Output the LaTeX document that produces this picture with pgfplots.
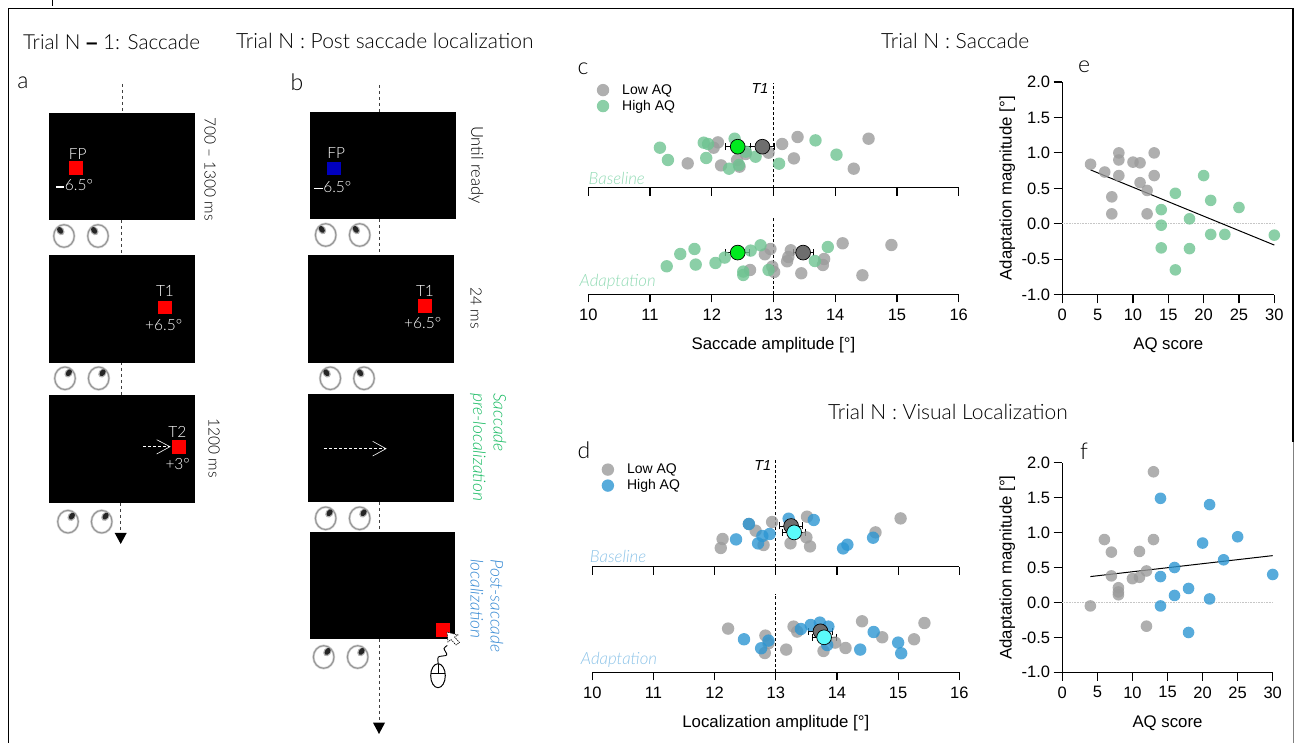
\documentclass[border=0pt]{standalone}
\usepackage{fontspec}
\usepackage{pgfplots}
\pgfplotsset{compat=1.18}
\setmainfont{Liberation Sans}
\newfontfamily\lt{Lato Light}
\definecolor{lowgray}{RGB}{155,155,155}
\definecolor{hgreen}{RGB}{110,195,145}
\definecolor{hblue}{RGB}{45,150,210}
\definecolor{meangray}{RGB}{110,110,110}
\definecolor{meangreen}{RGB}{0,235,30}
\definecolor{meancyan}{RGB}{90,250,250}
\definecolor{softgreen}{RGB}{145,218,180}
\definecolor{softblue}{RGB}{140,195,232}
\definecolor{labgreen}{RGB}{20,185,95}
\definecolor{labblue}{RGB}{50,135,210}
\pgfplotsset{
  strip/.style={scale only axis, clip=false, xmin=10, xmax=16, xtick={10,...,16},
    hide y axis, axis x line=bottom, axis line style={-,line width=1.3pt},
    xtick pos=bottom, tick align=outside, major tick length=8pt,
    tick style={black,line width=1.2pt},
    /pgf/number format/assume math mode=true,
    tick label style={font=\fontsize{16.5}{18}\selectfont},
    every axis x label/.append style={font=\fontsize{16.8}{18}\selectfont,
      at={(axis description cs:0.5,0)},anchor=center,yshift=-50.5pt},
    xticklabel style={yshift=-3pt}},
  scat/.style={scale only axis, clip=false, xmin=0, xmax=30, ymin=-1, ymax=2,
    xtick={0,5,...,30}, ytick={-1,-0.5,...,2}, axis lines=left,
    axis line style={-,line width=1.2pt}, tick align=outside, major tick length=8.7pt,
    tick style={black,line width=1.2pt},
    /pgf/number format/assume math mode=true,
    yticklabel style={/pgf/number format/fixed,/pgf/number format/fixed zerofill,/pgf/number format/precision=1},
    xticklabel style={yshift=-2pt},
    tick label style={font=\fontsize{16.5}{18}\selectfont},
    every axis x label/.append style={font=\fontsize{16.8}{18}\selectfont,
      at={(axis description cs:0.5,0)},anchor=center,yshift=-50.5pt},
    every axis y label/.append style={font=\fontsize{16.8}{18}\selectfont,
      at={(axis description cs:0,0.5)},anchor=center,yshift=55pt}},
  dot/.style={only marks, mark=*, mark size=6.2pt,
    mark options={fill=#1,draw=#1,draw opacity=0,fill opacity=0.8}},
  meandot/.style={forget plot, only marks, mark=*, mark size=7.4pt,
    mark options={draw=black,line width=0.7pt,fill=#1},
    error bars/.cd, x dir=both, x explicit,
    error bar style={black,line width=0.6pt},
    error mark options={rotate=90,mark size=3.5pt,black,line width=0.6pt}},
  tline/.style={forget plot, black, line width=0.8pt, dash pattern=on 3pt off 2.2pt},
  fit/.style={forget plot, black, line width=1pt, no marks},
  zeroline/.style={forget plot, no marks, gray!45, line width=0.6pt, densely dotted},
  leg/.style={legend style={at={(axis cs:#1)},anchor=west,draw=none,fill=none,
    font=\fontsize{14}{15}\selectfont,row sep=0.5pt,inner sep=0pt},legend cell align=left}
}
\newcommand{\eye}[3]{% centre x, y, pupil angle
  \draw[gray!35,line width=2.4pt] (#1,#2) ellipse [x radius=10.3,y radius=11.3];
  \draw[gray!85,line width=1pt] (#1,#2) ellipse [x radius=10.3,y radius=11.3];
  \fill[gray!60,rotate around={-#3:(#1,#2)}] ($(#1,#2)+(0,-6.3)$) ellipse [x radius=3.8,y radius=4.8];
  \fill[black!85,rotate around={-#3:(#1,#2)}] ($(#1,#2)+(0,-6.8)$) ellipse [x radius=2.6,y radius=3.8];}
\newcommand{\scr}[4]{\fill[black] (#1,#2) rectangle (#3,#4);}
\newcommand{\sq}[3]{\fill[#3] (#1,#2) rectangle ++(13.5,13.5);}
\usetikzlibrary{calc}
\begin{document}
\begin{tikzpicture}
\path[use as bounding box] (0,0) rectangle (1297pt,743pt);

\begin{scope}[shift={(0pt,743pt)},x=1pt,y=-1pt]
  \draw[line width=1.3pt] (8.5,743)--(8.5,8.5)--(1293,8.5)--(1293,442);
  \draw[gray,line width=0.8pt] (1293.5,442)--(1293.5,743);
  \draw[line width=0.9pt] (52,0)--(52,6);
  % guide lines
  \tikzset{guide/.style={black!75,line width=0.8pt,dash pattern=on 3.4pt off 2.6pt}}
  \draw[guide] (122.3,84)--(122.3,113);
  \draw[guide] (121.7,220)--(121.7,255);
  \draw[guide] (121.5,362)--(121.5,395);
  \draw[guide] (120.7,503)--(120.7,534);
  \fill[black] (114.7,533)--(126.7,533)--(120.7,544)--cycle;
  \draw[guide] (379,85)--(379,112);
  \draw[guide] (379,219)--(379,255);
  \draw[guide] (379,502)--(379,532);
  \draw[guide] (379,639)--(379,723);
  \fill[black] (373,722.7)--(385,722.7)--(379,734)--cycle;
  % screens
  \scr{49.3}{113}{195.3}{220.3}
  \scr{49.3}{255.3}{195.3}{362.7}
  \scr{49.3}{395.3}{195.3}{503}
  \scr{310.3}{111.7}{456.3}{219}
  \scr{308.3}{255.3}{454.3}{363}
  \scr{308.3}{394.3}{454.3}{502.3}
  \scr{309.5}{532.3}{455.3}{639.3}
  \sq{69.3}{161.3}{red}
  \sq{158.3}{300.7}{red}
  \sq{172.3}{440.3}{red}
  \sq{327}{161.7}{blue!75!black}
  \sq{418.3}{299.5}{red}
  \sq{436}{623.3}{red}
  % eyes
  \eye{64}{236}{-35}\eye{98}{236}{-35}
  \eye{65}{378.3}{35}\eye{98.7}{378.3}{35}
  \eye{68}{521.7}{35}\eye{101.7}{521.7}{35}
  \eye{325.7}{235}{-35}\eye{359.7}{235}{-35}
  \eye{330.3}{378.3}{-35}\eye{364}{378.3}{-35}
  \eye{325.7}{518.3}{35}\eye{359.7}{518.3}{35}
  \eye{323.7}{657}{35}\eye{357.7}{657}{35}
  % saccade arrows
  \draw[white,line width=0.6pt,dash pattern=on 3pt off 2pt] (143.3,446.7)--(170,446.7);
  \draw[white,line width=0.6pt] (156.7,439.7)--(170,446.7)--(156.7,454);
  \draw[white,line width=0.6pt,dash pattern=on 3pt off 2pt] (324,448.7)--(386,448.7);
  \draw[white,line width=0.6pt] (372.7,441.3)--(386,448.7)--(372.7,456);
  % mouse and cursor
  \draw[black,line width=1pt] (438,675.7) ellipse [x radius=7.3,y radius=12];
  \draw[black,line width=0.8pt] (430.7,673)--(445.3,673) (438,664)--(438,673);
  \draw[black,line width=0.9pt] plot[smooth] coordinates {(438.3,663.5)(438.3,657)(446.7,655)(444,648.5)(447.3,645.5)};
  \draw[black,fill=white,line width=0.6pt,dash pattern=on 1.5pt off 0.8pt] (447,632)--(448,642)--(451,639.5)--(456,645)--(459.5,642.5)--(454.5,637)--(458,635)--cycle;
  % text in the panels
  \tikzset{tw/.style={white,font=\lt\fontsize{15.5}{18}\selectfont,inner sep=0pt},
           rt/.style={rotate=-90,font=\lt\fontsize{15.5}{17}\selectfont,inner sep=0pt},
           rl/.style={rotate=-90,anchor=west,font=\lt\itshape\fontsize{17.4}{19}\selectfont,inner sep=0pt},
           hd/.style={font=\lt\fontsize{21}{23}\selectfont,inner sep=0pt,anchor=west},
           let/.style={font=\lt\fontsize{23}{25}\selectfont,inner sep=0pt},
           cond/.style={font=\lt\itshape\fontsize{16.8}{18}\selectfont,inner sep=0pt}}
  \node[tw] at (77.7,153.7) {FP};
  \draw[white,line width=1.3pt] (56,187)--(64,187);
  \node[tw] at (79,185.3) {6.5°};
  \node[tw] at (165,291.3) {T1};
  \node[tw] at (163.7,324.7) {+6.5°};
  \node[tw] at (177.3,432.3) {T2};
  \node[tw] at (177.7,463.7) {+3°};
  \node[tw] at (336.3,153) {FP};
  \draw[white,line width=1.3pt] (314.3,188.3)--(323.3,188.3);
  \node[tw] at (337.3,186.7) {6.5°};
  \node[tw] at (425,291) {T1};
  \node[tw] at (422.7,322.7) {+6.5°};
  \node[rt] at (210,169) {700 – 1300 ms};
  \node[rt] at (214,448) {1200 ms};
  \node[rt,font=\lt\fontsize{16.5}{18}\selectfont] at (476,165) {Until ready};
  \node[rt] at (476,308) {24 ms};
  \node[rl,labgreen] at (500,393) {Saccade};
  \node[rl,labgreen] at (478,393) {pre-localization};
  \node[rl,labblue] at (497,559) {Post-saccade};
  \node[rl,labblue] at (477,559) {localization};
  \node[hd,font=\lt\fontsize{20.7}{23}\selectfont] at (23,42) {Trial N {\rmfamily\bfseries –} 1: Saccade};
  \node[hd] at (236,41) {Trial N : Post saccade localization};
  \node[hd] at (881,41) {Trial N : Saccade};
  \node[hd] at (828,412) {Trial N : Visual Localization};
  \node[let] at (23,83) {a};
  \node[let] at (297,82) {b};
  \node[let] at (583,69) {c};
  \node[let] at (584,450) {d};
  \node[let] at (1084,67) {e};
  \node[let] at (1084,451) {f};
  \node[font=\itshape\fontsize{14.5}{16}\selectfont,inner sep=0pt] at (760,89) {T1};
  \node[font=\itshape\fontsize{14.5}{16}\selectfont,inner sep=0pt] at (762.7,466) {T1};
  \node[cond,softgreen] at (616.7,178) {Baseline};
  \node[cond,softgreen] at (617.7,282) {Adaptation};
  \node[cond,softblue] at (618,556.7) {Baseline};
  \node[cond,softblue] at (619,660) {Adaptation};
\end{scope}

% c, baseline
\begin{axis}[strip, at={(588.3pt,555.3pt)}, anchor=south west, width=370.4pt, height=104.7pt,
  ymin=0, ymax=104.7, xticklabels={}, leg={10.135,89.5}]
\addplot[dot=lowgray] coordinates {(12.10,45.3)(12.03,40)(13.39,50.7)(13.14,43.7)(14.54,49)(12.92,35)(12.55,33.7)(12.41,27.7)(13.33,29.3)(11.61,24.3)(12.15,22.3)(12.45,21)(14.30,19)};
\addlegendentry{\hspace*{11pt}Low AQ}
\addplot[dot=hgreen] coordinates {(11.16,40)(11.29,27.7)(11.87,45)(11.94,43.7)(12.37,49)(11.91,29.7)(12.28,19)(12.44,22.7)(12.55,36)(12.71,31)(13.09,24)(13.68,47.3)(14.02,33)};
\addlegendentry{\hspace*{11pt}High AQ}
\addplot[tline] coordinates {(13,0)(13,104.7)};
\addplot[meandot=meangray] coordinates {(12.82,41) +- (0.2,0)};
\addplot[meandot=meangreen] coordinates {(12.42,41) +- (0.2,0)};
\end{axis}

% c, adaptation
\begin{axis}[strip, at={(588.3pt,448.7pt)}, anchor=south west, width=370.4pt, height=76.6pt,
  ymin=0, ymax=76.6, xlabel={Saccade amplitude [°]}]
\addplot[dot=lowgray] coordinates {(12.95,45.3)(12.86,40)(13.28,44)(13.24,37.3)(13.22,33)(14.12,51)(14.91,49.3)(13.82,35.3)(13.80,29.3)(12.98,27.7)(12.62,24.3)(13.01,22.3)(13.45,21)(14.44,19)};
\addplot[dot=hgreen] coordinates {(11.27,28)(11.49,40.3)(11.72,45.3)(11.74,29.7)(12.06,31.3)(12.21,36.7)(12.63,43.7)(12.79,49)(13.88,47.3)(13.67,33.3)(12.92,24.3)(12.51,22.7)(12.51,19.3)};
\addplot[tline] coordinates {(13,0)(13,76.6)};
\addplot[meandot=meangray] coordinates {(13.48,41.7) +- (0.16,0)};
\addplot[meandot=meangreen] coordinates {(12.42,41.7) +- (0.195,0)};
\end{axis}

% d, baseline
\begin{axis}[strip, at={(592.3pt,176.3pt)}, anchor=south west, width=367pt, height=107.7pt,
  ymin=0, ymax=107.7, xticklabels={}, leg={10.15,89}]
\addplot[dot=lowgray] coordinates {(12.94,44.7)(13.51,50)(15.04,48.3)(12.67,36)(14.63,34.3)(12.13,27.7)(12.10,18.7)(12.80,21.7)(13.24,23.3)(13.50,29.3)(13.56,20.3)(12.56,42.7)};
\addlegendentry{\hspace*{11pt}Low AQ}
\addplot[dot=hblue] coordinates {(12.56,42.7)(13.21,48)(13.62,46.7)(12.90,32.7)(12.78,30.7)(12.71,23.3)(12.35,27.3)(14.17,22)(14.10,18.3)(14.59,29)};
\addlegendentry{\hspace*{11pt}High AQ}
\addplot[tline] coordinates {(13,0)(13,107.7)};
\addplot[meandot=meangray] coordinates {(13.25,40.7) +- (0.19,0)};
\addplot[meandot=meancyan] coordinates {(13.30,34.3) +- (0.19,0)};
\end{axis}

% d, adaptation
\begin{axis}[strip, at={(592.3pt,70.7pt)}, anchor=south west, width=367pt, height=78.3pt,
  ymin=0, ymax=78.3, xlabel={Localization amplitude [°]}]
\addplot[dot=lowgray] coordinates {(12.22,43.7)(12.83,36.7)(13.29,45.7)(13.35,40.7)(14.41,51)(15.43,49.3)(14.74,35)(15.26,33)(14.14,24.3)(13.97,29.7)(13.17,22.7)(13.78,21.3)(12.82,19.3)(12.88,29)};
\addplot[dot=hblue] coordinates {(12.48,33)(12.88,31.7)(12.76,24)(13.41,43.3)(13.57,47.3)(13.72,49.7)(13.86,45.7)(14.60,40.3)(15.00,29.7)(15.05,19)(14.38,22.7)(13.84,27.3)};
\addplot[tline] coordinates {(13,0)(13,78.3)};
\addplot[meandot=meangray] coordinates {(13.73,41) +- (0.2,0)};
\addplot[meandot=meancyan] coordinates {(13.79,35) +- (0.2,0)};
\end{axis}

% e
\begin{axis}[scat, at={(1062.3pt,448.3pt)}, anchor=south west, width=212pt, height=212.7pt,
  xlabel={AQ score}, ylabel={Adaptation magnitude [°]}]
\addplot[zeroline] coordinates {(0,0)(30,0)};
\addplot[dot=lowgray,mark size=5.8pt] coordinates {(4,.84)(6,.73)(7,.38)(7,.14)(8,1.0)(8,.9)(8,.68)(10,.87)(11,.86)(11,.58)(12,.47)(12,.14)(13,1.0)(13,.68)};
\addplot[dot=hgreen,mark size=5.8pt] coordinates {(14,.2)(14,-.02)(14,-.34)(16,.43)(16,-.65)(18,.07)(18,-.35)(20,.68)(21,.33)(21,-.15)(23,-.15)(25,.23)(30,-.16)};
\addplot[fit] coordinates {(4,.76)(30,-.3)};
\end{axis}

% f
\begin{axis}[scat, at={(1062.3pt,70.7pt)}, anchor=south west, width=210.4pt, height=209.6pt,
  xlabel={AQ score}, ylabel={Adaptation magnitude [°]}]
\addplot[zeroline] coordinates {(0,0)(30,0)};
\addplot[dot=lowgray,mark size=5.8pt] coordinates {(4,-.05)(6,.9)(7,.72)(7,.38)(8,.21)(8,.15)(8,.11)(10,.34)(11,.36)(11,.73)(12,.45)(12,-.34)(13,1.87)(13,.9)};
\addplot[dot=hblue,mark size=5.8pt] coordinates {(14,1.49)(14,.37)(14,-.05)(16,.5)(16,.1)(18,.2)(18,-.43)(20,.85)(21,1.4)(21,.05)(23,.61)(25,.94)(30,.4)};
\addplot[fit] coordinates {(4,.37)(30,.67)};
\end{axis}
\end{tikzpicture}
\end{document}
